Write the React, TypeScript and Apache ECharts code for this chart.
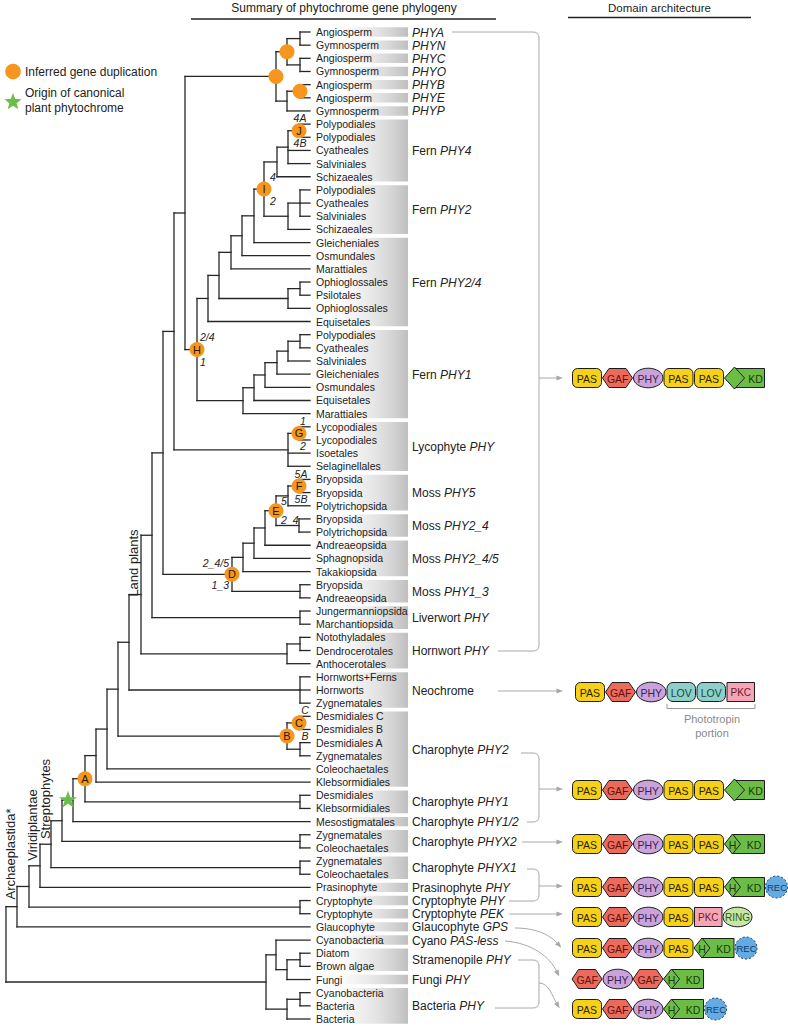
import React, { useEffect, useRef } from 'react';
import * as echarts from 'echarts';

const FONT = '"Liberation Sans", Arial, Helvetica, sans-serif';
const ORANGE = '#F6961E';
const GREEN = '#6CBD45';
const INK = '#222222';

// ---------------- data ----------------
const leafNames = [
  'Angiosperm', 'Gymnosperm', 'Angiosperm', 'Gymnosperm', 'Angiosperm', 'Angiosperm', 'Gymnosperm',
  'Polypodiales', 'Polypodiales', 'Cyatheales', 'Salviniales', 'Schizaeales',
  'Polypodiales', 'Cyatheales', 'Salviniales', 'Schizaeales',
  'Gleicheniales', 'Osmundales', 'Marattiales', 'Ophioglossales', 'Psilotales', 'Ophioglossales', 'Equisetales',
  'Polypodiales', 'Cyatheales', 'Salviniales', 'Gleicheniales', 'Osmundales', 'Equisetales', 'Marattiales',
  'Lycopodiales', 'Lycopodiales', 'Isoetales', 'Selaginellales',
  'Bryopsida', 'Bryopsida', 'Polytrichopsida',
  'Bryopsida', 'Polytrichopsida',
  'Andreaeopsida', 'Sphagnopsida', 'Takakiopsida',
  'Bryopsida', 'Andreaeopsida',
  'Jungermanniopsida', 'Marchantiopsida',
  'Notothyladales', 'Dendrocerotales', 'Anthocerotales',
  'Hornworts+Ferns', 'Hornworts', 'Zygnematales',
  'Desmidiales C', 'Desmidiales B', 'Desmidiales A', 'Zygnematales', 'Coleochaetales', 'Klebsormidiales',
  'Desmidiales', 'Klebsormidiales',
  'Mesostigmatales',
  'Zygnematales', 'Coleochaetales',
  'Zygnematales', 'Coleochaetales',
  'Prasinophyte',
  'Cryptophyte', 'Cryptophyte',
  'Glaucophyte',
  'Cyanobacteria', 'Diatom', 'Brown algae', 'Fungi', 'Cyanobacteria', 'Bacteria', 'Bacteria',
];

const groupFirst = [0, 1, 2, 3, 4, 5, 6, 7, 12, 16, 23, 30, 34, 37, 39, 42, 44, 46, 49, 52, 58, 60, 61, 63, 65, 66, 67, 68, 69, 70, 72, 73];
const groupLast = [0, 1, 2, 3, 4, 5, 6, 11, 15, 22, 29, 33, 36, 38, 41, 43, 45, 48, 51, 57, 59, 60, 62, 64, 65, 66, 67, 68, 69, 71, 72, 75];
const groupPlain = ['', '', '', '', '', '', '', 'Fern ', 'Fern ', 'Fern ', 'Fern ', 'Lycophyte ', 'Moss ', 'Moss ', 'Moss ', 'Moss ', 'Liverwort ', 'Hornwort ', 'Neochrome', 'Charophyte ', 'Charophyte ', 'Charophyte ', 'Charophyte ', 'Charophyte ', 'Prasinophyte ', 'Cryptophyte ', 'Cryptophyte ', 'Glaucophyte ', 'Cyano ', 'Stramenopile ', 'Fungi ', 'Bacteria '];
const groupItalic = ['PHYA', 'PHYN', 'PHYC', 'PHYO', 'PHYB', 'PHYE', 'PHYP', 'PHY4', 'PHY2', 'PHY2/4', 'PHY1', 'PHY', 'PHY5', 'PHY2_4', 'PHY2_4/5', 'PHY1_3', 'PHY', 'PHY', '', 'PHY2', 'PHY1', 'PHY1/2', 'PHYX2', 'PHYX1', 'PHY', 'PHY', 'PEK', 'GPS', 'PAS-less', 'PHY', 'PHY', 'PHY'];

// tree: internal node = depth (x) + children (leaf indices or nodes) + optional mark
type TNode = { x: number; kids: (TNode | number)[]; mark?: string };
const n = (x: number, kids: (TNode | number)[], mark?: string): TNode => ({ x, kids, mark });

const seedPlants = n(276, [n(287, [n(300, [0, 1]), n(300, [2, 3])], 'o'), n(287, [n(300, [4, 5], 'o'), 6])], 'o');
const fernPHY4 = n(277, [n(288, [n(299, [7, 8], 'J'), 9, 10]), 11]);
const fernPHY2 = n(288, [n(300, [12, 13, 14]), 15]);
const fernI = n(264, [fernPHY4, fernPHY2], 'I');
const fern24 = n(208, [n(219, [n(231, [n(242, [n(254, [fernI, 16]), 17]), 18]), n(288, [n(300, [19, 20]), 21])]), 22]);
const fernPHY1 = n(243, [n(254, [n(265, [n(277, [n(288, [n(300, [23, 24]), 25]), 26]), 27]), 28]), 29]);
const fernH = n(197, [fern24, fernPHY1], 'H');
const lyco = n(288, [n(299, [30, 31], 'G'), 32, 33]);
const mossE = n(276, [n(288, [n(299, [34, 35], 'F'), 36]), n(299, [37, 38])], 'E');
const mossD = n(232, [n(243, [n(254, [n(265, [mossE, 39]), 40]), 41]), n(300, [42, 43])], 'D');
const landPlants = n(141, [
  n(152, [n(163, [n(174, [n(185, [seedPlants, fernH]), lyco]), mossD]), n(300, [44, 45])]),
  n(287, [n(300, [46, 47]), 48]),
]);
const charoB = n(287, [n(299, [52, 53], 'C'), n(300, [54, 55])], 'B');
const nodeA = n(85, [n(96, [n(107, [n(118, [n(129, [landPlants, n(300, [49, 50, 51])]), charoB]), 56]), 57]), n(300, [58, 59])], 'A');
const archaeplastida = n(17, [
  n(29, [n(40, [n(51, [n(62, [n(73, [nodeA, 60], '*'), n(300, [61, 62])]), n(300, [63, 64])]), 65]), n(300, [66, 67])]),
  68,
]);
const outgroup = n(266, [n(276, [69, n(287, [n(300, [70, 71]), 72])]), n(287, [n(300, [73, 74]), 75])]);
const treeRoot = n(6, [archaeplastida, outgroup]);

const branchLabelText: Record<string, [string, string]> = {
  J: ['4A', '4B'], I: ['4', '2'], H: ['2/4', '1'], G: ['1', '2'],
  F: ['5A', '5B'], E: ['5', '2_4'], D: ['2_4/5', '1_3'], C: ['C', 'B'],
};

const domainRows = [
  ['PAS', 'GAF', 'PHY', 'PAS', 'PAS', 'KD'],
  ['PAS', 'GAF', 'PHY', 'LOV', 'LOV', 'PKC'],
  ['PAS', 'GAF', 'PHY', 'PAS', 'PAS', 'KD'],
  ['PAS', 'GAF', 'PHY', 'PAS', 'PAS', 'HKD'],
  ['PAS', 'GAF', 'PHY', 'PAS', 'PAS', 'HKD', 'REC'],
  ['PAS', 'GAF', 'PHY', 'PAS', 'PKC', 'RING'],
  ['PAS', 'GAF', 'PHY', 'PAS', 'HKD', 'REC'],
  ['GAF', 'PHY', 'GAF', 'HKD'],
  ['PAS', 'GAF', 'PHY', 'HKD', 'REC'],
];

// ---------------- layout / style constants ----------------
const ROW = 13.16;
const ROW0 = 32;
const Y_MIN = -ROW0 / ROW;
const Y_MAX = Y_MIN + 1026 / ROW;
const TIP_X = 310;
const BOX_X0 = 338;
const BOX_X1 = 408;
const GROUP_LABEL_X = 412;

const branchLabelStyle: Record<string, { dx: number; dy: number; align: string }> = {
  J: { dx: 1, dy: 12.5, align: 'center' }, I: { dx: 6, dy: 12, align: 'left' },
  H: { dx: 3, dy: 12.5, align: 'left' }, G: { dx: 4, dy: 12.5, align: 'center' },
  F: { dx: 2, dy: 12.5, align: 'center' }, E: { dx: 5, dy: 9.5, align: 'left' },
  D: { dx: -3, dy: 11, align: 'right' }, C: { dx: 6, dy: 13, align: 'center' },
};

const domainRowY = [378, 692, 790, 844, 887, 917, 948, 979, 1009];
const domainRowX0 = [572, 575, 572, 572, 572, 572, 572, 572, 572];
const DOMAIN_W: Record<string, number> = { PAS: 30.5, GAF: 30.5, PHY: 30.5, LOV: 30, PKC: 28.5, RING: 30, KD: 40, HKD: 40, REC: 24 };
const DOMAIN_FILL: Record<string, string> = { PAS: '#F7D117', GAF: '#EC6A5C', PHY: '#C9A3DA', LOV: '#8ED0C9', PKC: '#F6A5B6', RING: '#C4E7A6', KD: GREEN, HKD: GREEN, REC: '#63ABE2' };
const DOMAIN_TXT: Record<string, string> = { PAS: '#2b2200', GAF: '#5e130b', PHY: '#3d2352', LOV: '#1b4440', PKC: '#6a1a2a', RING: '#2d5a1a', KD: '#163b0a', HKD: '#163b0a', REC: '#143a66' };

const CONNECTOR_D = [
  'M452,32 H533 Q539,32 539,38 V645 Q539,651 533,651 H498',
  'M539,378 H558',
  'M498,691 H558',
  'M521,753 H533 Q539,753 539,759 V816 Q539,822 533,822 H527',
  'M539,789 H558',
  'M522,842 H558',
  'M527,869 H533 Q539,869 539,875 V895 Q539,901 533,901 H509',
  'M539,886 H558',
  'M509,914 H558',
  'M515,928 C538,928 551,936 558,944',
  'M505,941 C532,943 550,957 557,972',
  'M518,960 H533 Q539,960 539,966 V1002 Q539,1008 533,1008 H495',
  'M539,983 C549,983 552,996 557,1004',
];
const arrowEnds = [
  [558, 378, 1, 0], [558, 691, 1, 0], [558, 789, 1, 0], [558, 842, 1, 0], [558, 886, 1, 0], [558, 914, 1, 0],
  [558, 944, 7, 8], [557, 972, 7, 15], [557, 1004, 5, 8],
];

try {
  echarts.graphic.registerShape('phyConnectors', (echarts.graphic as any).extendPath(CONNECTOR_D.join(' '), {}));
} catch (e) { /* already registered */ }

const STAR_PATH = 'path://M50,2 L61.8,36.2 L97.6,36.2 L68.6,57.3 L79.4,91.8 L50,70.5 L20.6,91.8 L31.4,57.3 L2.4,36.2 L38.2,36.2 Z';

function starPoints(cx: number, cy: number, R: number, r: number) {
  const pts: number[][] = [];
  for (let k = 0; k < 10; k++) {
    const a = -Math.PI / 2 + (k * Math.PI) / 5;
    const rad = k % 2 === 0 ? R : r;
    pts.push([cx + rad * Math.cos(a), cy + rad * Math.sin(a)]);
  }
  return pts;
}

// ---------------- tree layout ----------------
function buildTree() {
  const segs: number[][] = [];
  const marks: { x: number; y: number; t: string }[] = [];
  const place = (nd: TNode): number => {
    const ys = nd.kids.map((k) => (typeof k === 'number' ? k : place(k)));
    const y = (ys[0] + ys[ys.length - 1]) / 2;
    segs.push([nd.x, ys[0], nd.x, ys[ys.length - 1]]);
    nd.kids.forEach((k, i) => segs.push([nd.x, ys[i], typeof k === 'number' ? TIP_X : k.x, ys[i]]));
    if (nd.mark) marks.push({ x: nd.x, y, t: nd.mark });
    return y;
  };
  place(treeRoot);
  return { segs, marks };
}

function txt(x: number, y: number, text: string, size: number, extra: any = {}) {
  return {
    type: 'text', x, y, silent: true,
    style: { text, fontSize: size, fontFamily: FONT, fill: INK, align: 'left', verticalAlign: 'middle', ...extra },
  };
}

function domainElements() {
  const els: any[] = [];
  const stroke = '#1c1c1c';
  domainRows.forEach((row, ri) => {
    let x = domainRowX0[ri];
    const cy = domainRowY[ri];
    row.forEach((d) => {
      const w = DOMAIN_W[d];
      const fill = DOMAIN_FILL[d];
      const tc = DOMAIN_TXT[d];
      const base = { fill, stroke, lineWidth: 1 };
      const label = (tx: number, t: string, size = 10.5) =>
        txt(tx, cy + 0.5, t, size, { fill: tc, align: 'center' });
      if (d === 'PAS' || d === 'LOV') {
        els.push({ type: 'rect', shape: { x: x + 0.5, y: cy - 9.5, width: w - 1.5, height: 19, r: d === 'PAS' ? 5 : 6 }, style: base });
        els.push(label(x + w / 2 - 0.3, d));
      } else if (d === 'PKC') {
        els.push({ type: 'rect', shape: { x: x + 0.5, y: cy - 9.5, width: w - 1, height: 19 }, style: base });
        els.push(label(x + w / 2, d, 10));
      } else if (d === 'GAF') {
        els.push({ type: 'polygon', shape: { points: [[x, cy], [x + 6.5, cy - 9.5], [x + w - 7, cy - 9.5], [x + w - 0.5, cy], [x + w - 7, cy + 9.5], [x + 6.5, cy + 9.5]] }, style: base });
        els.push(label(x + w / 2, d));
      } else if (d === 'PHY' || d === 'RING') {
        els.push({ type: 'ellipse', shape: { cx: x + w / 2, cy, rx: w / 2 - 0.5, ry: 9.8 }, style: base });
        els.push(label(x + w / 2, d, d === 'RING' ? 10 : 10.5));
      } else if (d === 'KD') {
        els.push({ type: 'rect', shape: { x: x + 10, y: cy - 9.5, width: 30, height: 19 }, style: base });
        els.push({ type: 'polygon', shape: { points: [[x, cy], [x + 10, cy - 11], [x + 20, cy], [x + 10, cy + 11]] }, style: base });
        els.push(label(x + 31, 'KD'));
      } else if (d === 'HKD') {
        els.push({ type: 'rect', shape: { x: x + 8, y: cy - 9.5, width: 32, height: 19 }, style: base });
        els.push({ type: 'polygon', shape: { points: [[x, cy], [x + 8, cy - 10], [x + 16, cy], [x + 8, cy + 10]] }, style: base });
        els.push(label(x + 8, 'H'));
        els.push(label(x + 29.5, 'KD'));
      } else if (d === 'REC') {
        els.push({ type: 'circle', shape: { cx: x + 12, cy, r: 11 }, style: { fill, stroke: '#1e3d60', lineWidth: 1, lineDash: [2, 2] } });
        els.push(label(x + 12.5, 'REC', 9.5));
      }
      x += w;
    });
  });
  return els;
}

function arrowHeads() {
  return arrowEnds.map(([x, y, dx, dy]) => {
    const L = Math.hypot(dx, dy);
    const ux = dx / L, uy = dy / L;
    const tx = x + ux * 5, ty = y + uy * 5;
    const bx = tx - ux * 6.5, by = ty - uy * 6.5;
    return {
      type: 'polygon', silent: true,
      shape: { points: [[tx, ty], [bx - uy * 2.6, by + ux * 2.6], [bx + uy * 2.6, by - ux * 2.6]] },
      style: { fill: '#a8a8a8' },
    };
  });
}

function buildOption() {
  const { segs, marks } = buildTree();
  const dupMarks = marks.filter((m) => m.t !== '*');
  const starMarks = marks.filter((m) => m.t === '*');
  const labelled = marks.filter((m) => branchLabelText[m.t]);

  const graphicEls: any[] = [
    // headers
    txt(344, 7.5, 'Summary of phytochrome gene phylogeny', 12, { align: 'center' }),
    { type: 'line', silent: true, shape: { x1: 191, y1: 19, x2: 496, y2: 19 }, style: { stroke: INK, lineWidth: 1.3 } },
    txt(659.5, 7.5, 'Domain architecture', 11.5, { align: 'center' }),
    { type: 'line', silent: true, shape: { x1: 568, y1: 17.5, x2: 751, y2: 17.5 }, style: { stroke: INK, lineWidth: 1.3 } },
    // legend
    { type: 'circle', silent: true, shape: { cx: 13, cy: 71.5, r: 7.8 }, style: { fill: ORANGE } },
    txt(25, 71.5, 'Inferred gene duplication', 12),
    { type: 'polygon', silent: true, shape: { points: starPoints(13, 102, 9, 3.8) }, style: { fill: GREEN } },
    txt(25, 93, 'Origin of canonical', 12),
    txt(25, 108, 'plant phytochrome', 12),
    // clade labels (rotated)
    { ...txt(133, 563, 'Land plants', 13, { align: 'center' }), rotation: Math.PI / 2 },
    { ...txt(45, 799, 'Streptophytes', 13, { align: 'center' }), rotation: Math.PI / 2 },
    { ...txt(32.5, 825, 'Viridiplantae', 13, { align: 'center' }), rotation: Math.PI / 2 },
    { ...txt(10.5, 854, 'Archaeplastida*', 13, { align: 'center' }), rotation: Math.PI / 2 },
    // connectors
    { type: 'phyConnectors', silent: true, x: 0, y: 0, style: { stroke: '#a8a8a8', fill: 'none', lineWidth: 1 } },
    ...arrowHeads(),
    // phototropin bracket
    { type: 'polyline', silent: true, shape: { points: [[667, 704], [667, 708.5], [755, 708.5], [755, 704]] }, style: { stroke: '#999', lineWidth: 1, fill: 'none' } },
    txt(712, 718.5, 'Phototropin', 11, { align: 'center', fill: '#8a8a8a' }),
    txt(712, 733, 'portion', 11, { align: 'center', fill: '#8a8a8a' }),
    ...domainElements(),
  ];

  return {
    animation: false,
    backgroundColor: '#ffffff',
    grid: { left: 0, right: 0, top: 0, bottom: 0 },
    xAxis: { type: 'value', min: 0, max: 788, show: false },
    yAxis: { type: 'value', min: Y_MIN, max: Y_MAX, inverse: true, show: false },
    series: [
      {
        type: 'custom', name: 'groupBoxes', silent: true, z: 1,
        data: groupFirst.map((f, i) => [BOX_X0, f, BOX_X1, groupLast[i]]),
        renderItem: (params: any, api: any) => {
          const a = api.coord([api.value(0), api.value(1)]);
          const b = api.coord([api.value(2), api.value(3)]);
          return {
            type: 'rect',
            shape: { x: a[0], y: a[1] - 4.7, width: b[0] - a[0], height: b[1] - a[1] + 9.4 },
            style: {
              fill: new echarts.graphic.LinearGradient(0, 0, 1, 0, [
                { offset: 0, color: 'rgba(210,210,210,0)' },
                { offset: 0.55, color: 'rgba(210,210,210,0.6)' },
                { offset: 1, color: '#bfbfbf' },
              ]),
            },
          };
        },
      },
      {
        type: 'custom', name: 'branches', silent: true, z: 3,
        data: segs,
        renderItem: (params: any, api: any) => {
          const a = api.coord([api.value(0), api.value(1)]);
          const b = api.coord([api.value(2), api.value(3)]);
          return {
            type: 'line',
            shape: { x1: a[0], y1: a[1], x2: b[0], y2: b[1] },
            style: { stroke: '#262626', lineWidth: 1.3, lineCap: 'square' },
          };
        },
      },
      {
        type: 'custom', name: 'leaves', silent: true, z: 4,
        data: leafNames.map((_, i) => [TIP_X, i]),
        renderItem: (params: any, api: any) => {
          const p = api.coord([api.value(0), api.value(1)]);
          return {
            type: 'text', x: p[0] + 6, y: p[1],
            style: { text: leafNames[params.dataIndex], fontSize: 10.5, fontFamily: FONT, fill: INK, align: 'left', verticalAlign: 'middle' },
          };
        },
      },
      {
        type: 'custom', name: 'groupLabels', silent: true, z: 4,
        data: groupFirst.map((f, i) => [GROUP_LABEL_X, (f + groupLast[i]) / 2]),
        renderItem: (params: any, api: any) => {
          const i = params.dataIndex;
          const p = api.coord([api.value(0), api.value(1)]);
          const parts = (groupPlain[i] ? `{n|${groupPlain[i]}}` : '') + (groupItalic[i] ? `{i|${groupItalic[i]}}` : '');
          return {
            type: 'text', x: p[0], y: p[1] + 0.5,
            style: {
              text: parts, fontSize: 12, fontFamily: FONT, fill: INK, align: 'left', verticalAlign: 'middle',
              rich: {
                n: { fontSize: 12, fontFamily: FONT, fill: INK },
                i: { fontSize: 12, fontFamily: FONT, fill: INK, fontStyle: 'italic' },
              },
            },
          };
        },
      },
      {
        type: 'custom', name: 'branchLabels', silent: true, z: 4,
        data: labelled.map((m) => [m.x, m.y]),
        renderItem: (params: any, api: any) => {
          const m = labelled[params.dataIndex];
          const st = branchLabelStyle[m.t];
          const [up, dn] = branchLabelText[m.t];
          const p = api.coord([api.value(0), api.value(1)]);
          const mk = (t: string, dy: number) => ({
            type: 'text', x: p[0] + st.dx, y: p[1] + dy,
            style: { text: t, fontSize: 10.5, fontFamily: FONT, fontStyle: 'italic', fill: INK, align: st.align, verticalAlign: 'middle' },
          });
          return { type: 'group', children: [mk(up, -st.dy), mk(dn, st.dy)] };
        },
      },
      {
        type: 'scatter', name: 'duplications', silent: true, z: 6,
        data: dupMarks.map((m) => [m.x, m.y]),
        symbol: 'circle', symbolSize: 15,
        itemStyle: { color: ORANGE, opacity: 1 },
        label: {
          show: true, position: 'inside', fontSize: 11, fontFamily: FONT, color: '#2a1805',
          formatter: (p: any) => (dupMarks[p.dataIndex].t === 'o' ? '' : dupMarks[p.dataIndex].t),
        },
      },
      {
        type: 'scatter', name: 'origin', silent: true, z: 6,
        data: starMarks.map((m) => [m.x, m.y]),
        symbol: STAR_PATH, symbolSize: 18, symbolKeepAspect: true, symbolOffset: [-5, -1],
        itemStyle: { color: GREEN, opacity: 1 },
      },
    ],
    graphic: { elements: graphicEls },
  };
}

export default function App() {
  const ref = useRef<HTMLDivElement>(null);
  useEffect(() => {
    if (!ref.current) return;
    const chart = echarts.init(ref.current, null, { renderer: 'svg' });
    chart.setOption(buildOption() as any);
    return () => chart.dispose();
  }, []);
  return (
    <div
      ref={ref}
      style={{ position: 'absolute', left: 0, top: 0, width: 788, height: 1026, background: '#fff' }}
    />
  );
}
